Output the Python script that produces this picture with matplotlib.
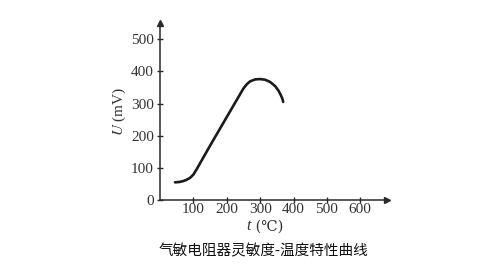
import matplotlib
matplotlib.use("Agg")
import matplotlib.pyplot as plt
import numpy as np

# values
temp = [45, 58, 70, 80, 90, 100, 110, 150, 200, 250, 260, 270, 285, 300, 315, 330, 345, 355, 362, 367, 369]
volt = [55, 56, 59, 63, 69, 79, 96, 169, 258, 347, 360, 369, 375, 376, 374, 367, 354, 340, 326, 314, 305]
xticks = [100, 200, 300, 400, 500, 600]
yticks = [0, 100, 200, 300, 400, 500]
title = "气敏电阻器灵敏度-温度特性曲线"

plt.rcParams['font.family'] = ['Liberation Serif', 'Noto Sans CJK SC', 'DejaVu Sans']
plt.rcParams['mathtext.fontset'] = 'stix'

fig = plt.figure(figsize=(5, 2.68), dpi=100)
ax = fig.add_axes([0.32, 0.2537, 0.454, 0.66])
ink = '#2a2a2a'

ax.plot(temp, volt, color='#1a1a1a', lw=1.9, solid_capstyle='round')

ax.set_xlim(0, 680)
ax.set_ylim(0, 550)
for s in ['top', 'right']:
    ax.spines[s].set_visible(False)
for s in ['left', 'bottom']:
    ax.spines[s].set_color(ink)
    ax.spines[s].set_linewidth(1.1)

# arrow heads on the axes
ax.plot(1, 0, '>', color=ink, ms=5, transform=ax.transAxes, clip_on=False)
ax.plot(0, 1, '^', color=ink, ms=5, transform=ax.transAxes, clip_on=False)

ax.set_xticks(xticks)
ax.set_yticks(yticks)
ax.tick_params(direction='inout', length=5, width=1, color=ink,
               labelsize=11, labelcolor='#333333')
ax.tick_params(axis='x', pad=0)
ax.tick_params(axis='y', pad=2)

ax.set_ylabel('$U$ (mV)', fontsize=11, color='#333333', labelpad=2)

# x label: italic t followed by (℃) in a font that has the sign
fig.text(0.502, 0.155, ' (℃)', ha='left', va='center', fontsize=10.5,
         color='#333333', family=['DejaVu Serif'])
fig.text(0.502, 0.155, 't', ha='right', va='center', fontsize=11.5,
         color='#333333', style='italic')

fig.text(0.526, 0.063, title, ha='center', va='center', fontsize=10.5,
         family=['Noto Sans CJK SC', 'DejaVu Sans'], color='#111111')

fig.savefig('out.png', dpi=100, facecolor='white')
